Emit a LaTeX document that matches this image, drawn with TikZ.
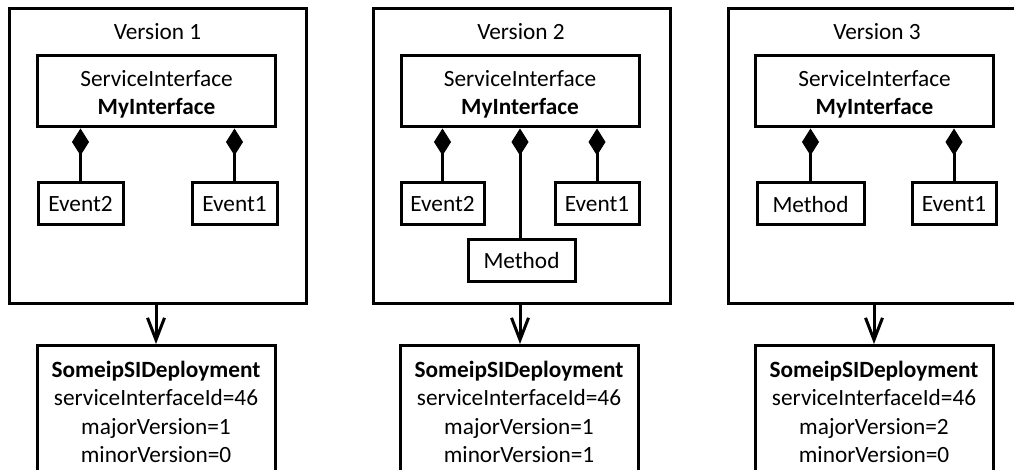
\documentclass[tikz,border=0pt]{standalone}
\usepackage{fontspec}
\setmainfont{Carlito}
\usetikzlibrary{arrows.meta}
\begin{document}
\begin{tikzpicture}[x=1pt,y=-1pt,
  every node/.style={font=\fontsize{23.3}{28.5}\selectfont},
  box/.style={draw,line width=3pt,inner sep=0pt,align=center},
  outerbox/.style={box,minimum width=297pt,minimum height=294pt},
  ifbox/.style={box,minimum width=238pt,minimum height=71pt},
  ebox/.style={box,minimum height=42pt},
  depbox/.style={box,anchor=north,minimum width=238pt,minimum height=133pt},
  title/.style={inner sep=0pt},
  comp/.style={line width=3pt,{Diamond[length=27pt,width=17pt,line width=1pt]}-},
  dep/.style={line width=3pt,-{Straight Barb[length=22pt,width=17pt,line width=3pt]}}
]
\useasboundingbox (0,0) rectangle (1014,470);
\clip (0,0) rectangle (1014,470);

% ---------- Version 1 ----------
\node[outerbox] (o1) at (157.5,156) {};
\node[title] (t1) at (157.5,32) {Version 1};
\node[ifbox] (i1) at (156.5,91.5) {\rule{0pt}{22pt}ServiceInterface\\\textbf{MyInterface}};
\node[ebox,minimum width=85pt] (e12) at (80.5,204) {Event2};
\node[ebox,minimum width=85pt] (e11) at (234.5,204) {Event1};
\draw[comp] (e12.north |- i1.south) -- (e12.north);
\draw[comp] (e11.north |- i1.south) -- (e11.north);
\node[depbox] (d1) at (156,344) {\textbf{SomeipSIDeployment}\\serviceInterfaceId=46\\majorVersion=1\\minorVersion=0};
\draw[dep] (o1.south -| d1.north) -- (d1.north);

% ---------- Version 2 ----------
\node[outerbox] (o2) at (521.5,156) {};
\node[title] (t2) at (521,32) {Version 2};
\node[ifbox] (i2) at (520,91.5) {\rule{0pt}{22pt}ServiceInterface\\\textbf{MyInterface}};
\node[ebox,minimum width=83pt] (e22) at (442.5,204) {Event2};
\node[ebox,minimum width=84pt] (e21) at (597,204) {Event1};
\node[ebox,minimum width=107pt,minimum height=41pt] (m2) at (521.5,260.5) {Method};
\draw[comp] (e22.north |- i2.south) -- (e22.north);
\draw[comp] (i2.south) -- (i2.south |- m2.north);
\draw[comp] (e21.north |- i2.south) -- (e21.north);
\node[depbox] (d2) at (519,344) {\textbf{SomeipSIDeployment}\\serviceInterfaceId=46\\majorVersion=1\\minorVersion=1};
\draw[dep] (o2.south -| i2.south) -- (d2.north -| i2.south);

% ---------- Version 3 ----------
\node[outerbox] (o3) at (876.5,156) {};
\node[title] (t3) at (877,32) {Version 3};
\node[ifbox] (i3) at (874.5,91.5) {\rule{0pt}{22pt}ServiceInterface\\\textbf{MyInterface}};
\node[ebox,minimum width=107pt] (m3) at (810.5,204) {Method};
\node[ebox,minimum width=84pt] (e31) at (954,204) {Event1};
\draw[comp] (m3.north |- i3.south) -- (m3.north);
\draw[comp] (e31.north |- i3.south) -- (e31.north);
\node[depbox] (d3) at (874,344) {\textbf{SomeipSIDeployment}\\serviceInterfaceId=46\\majorVersion=2\\minorVersion=0};
\draw[dep] (o3.south -| d3.north) -- (d3.north);
\end{tikzpicture}
\end{document}
